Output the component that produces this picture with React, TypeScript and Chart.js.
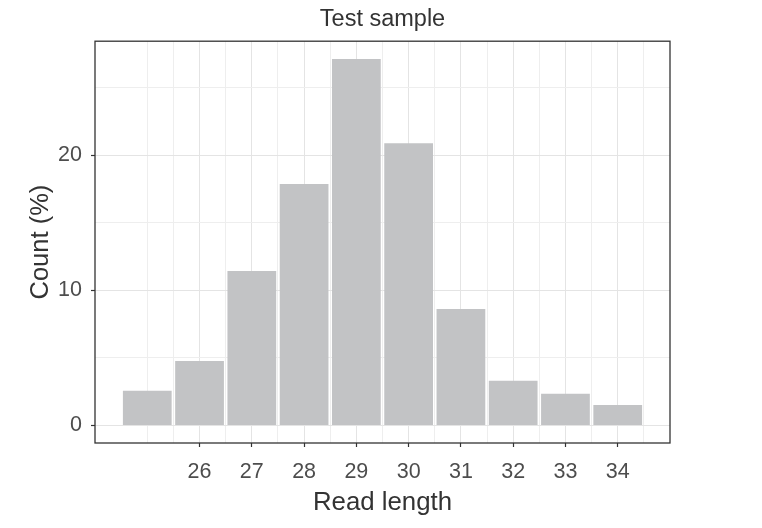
import React, { useEffect, useRef } from 'react';
import { Chart, registerables } from 'chart.js';

Chart.register(...registerables);

const chartTitle = 'Test sample';
const xAxisTitle = 'Read length';
const yAxisTitle = 'Count (%)';

const readLengths = [25, 26, 27, 28, 29, 30, 31, 32, 33, 34];
const countPct = [2.52, 4.74, 11.4, 17.85, 27.1, 20.87, 8.59, 3.26, 2.3, 1.48];

const xLabelTicks = [26, 27, 28, 29, 30, 31, 32, 33, 34];
const xGridValues = [25, 25.5, 26, 26.5, 27, 27.5, 28, 28.5, 29, 29.5, 30, 30.5, 31, 31.5, 32, 32.5, 33, 33.5, 34, 34.5];
const yLabelTicks = [0, 10, 20];
const yGridValues = [0, 5, 10, 15, 20, 25];

const FONT = "'Liberation Sans', Arial, Helvetica, sans-serif";
const MAJOR_GRID = '#e4e4e4';
const MINOR_GRID = '#eeeeee';
const AXIS_DARK = '#333333';

const panelBorder = {
  id: 'panelBorder',
  afterDatasetsDraw(chart: any) {
    const { ctx, chartArea } = chart;
    ctx.save();
    ctx.strokeStyle = AXIS_DARK;
    ctx.lineWidth = 1.3;
    ctx.strokeRect(chartArea.left, chartArea.top, chartArea.right - chartArea.left, chartArea.bottom - chartArea.top);
    ctx.restore();
  },
};

export default function App() {
  const canvasRef = useRef<HTMLCanvasElement | null>(null);

  useEffect(() => {
    if (!canvasRef.current) return;
    const chart = new Chart(canvasRef.current, {
      type: 'bar',
      data: {
        datasets: [
          {
            data: readLengths.map((x, i) => ({ x, y: countPct[i] })),
            backgroundColor: '#c2c3c5',
            borderWidth: 0,
            barThickness: 'flex',
            barPercentage: 1,
            categoryPercentage: 0.92,
          },
        ],
      },
      options: {
        responsive: false,
        animation: false,
        devicePixelRatio: 1,
        layout: { padding: { left: 0, right: 92, top: 0, bottom: 0 } },
        plugins: {
          legend: { display: false },
          tooltip: { enabled: false },
          title: {
            display: true,
            text: chartTitle,
            fullSize: false,
            color: '#333333',
            font: { family: FONT, size: 23.5, weight: 'normal' },
            padding: { top: 5, bottom: 8 },
          },
        },
        scales: {
          x: {
            type: 'linear',
            min: 24,
            max: 35,
            offset: false,
            afterBuildTicks: (scale: any) => {
              scale.ticks = xGridValues.map((v) => ({ value: v }));
            },
            afterFit: (scale: any) => {
              scale.height = 85;
            },
            border: { display: false },
            grid: {
              offset: false,
              color: (c: any) => (xLabelTicks.includes(c.tick?.value) ? MAJOR_GRID : MINOR_GRID),
              lineWidth: 1,
              drawTicks: true,
              tickLength: 4,
              tickWidth: 1.2,
              tickColor: (c: any) => (xLabelTicks.includes(c.tick?.value) ? AXIS_DARK : 'rgba(0,0,0,0)'),
            },
            ticks: {
              autoSkip: false,
              maxRotation: 0,
              minRotation: 0,
              padding: 12,
              color: '#4d4d4d',
              font: { family: FONT, size: 21.5 },
              callback: (v: any) => (xLabelTicks.includes(Number(v)) ? String(v) : ''),
            },
            title: {
              display: true,
              text: xAxisTitle,
              color: '#333333',
              font: { family: FONT, size: 25.8 },
              padding: { top: 0, bottom: 10 },
            },
          },
          y: {
            type: 'linear',
            min: -1.32,
            max: 28.45,
            afterBuildTicks: (scale: any) => {
              scale.ticks = yGridValues.map((v) => ({ value: v }));
            },
            afterFit: (scale: any) => {
              scale.width = 95;
            },
            border: { display: false },
            grid: {
              color: (c: any) => (yLabelTicks.includes(c.tick?.value) ? MAJOR_GRID : MINOR_GRID),
              lineWidth: 1,
              drawTicks: true,
              tickLength: 4,
              tickWidth: 1.2,
              tickColor: (c: any) => (yLabelTicks.includes(c.tick?.value) ? AXIS_DARK : 'rgba(0,0,0,0)'),
            },
            ticks: {
              autoSkip: false,
              padding: 9,
              color: '#4d4d4d',
              font: { family: FONT, size: 21.5 },
              callback: (v: any) => (yLabelTicks.includes(Number(v)) ? String(v) : ''),
            },
            title: {
              display: true,
              text: yAxisTitle,
              color: '#333333',
              font: { family: FONT, size: 25.5 },
              padding: { top: 26, bottom: 0 },
            },
          },
        },
      } as any,
      plugins: [panelBorder],
    });
    return () => chart.destroy();
  }, []);

  return (
    <div style={{ position: 'fixed', left: 0, top: 0, width: 762, height: 528, background: '#ffffff' }}>
      <canvas ref={canvasRef} width={762} height={528} style={{ display: 'block' }} />
    </div>
  );
}
